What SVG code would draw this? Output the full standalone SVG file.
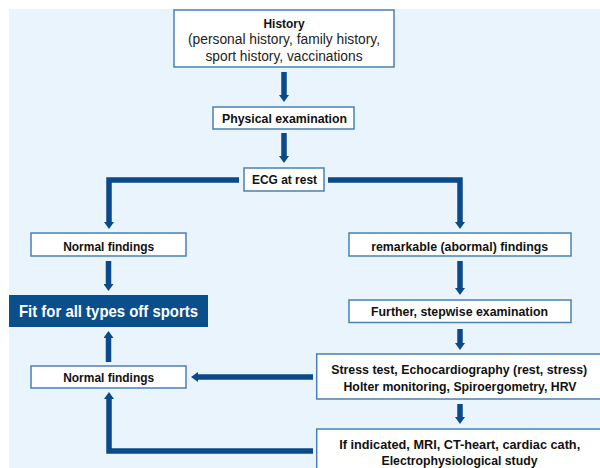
<svg xmlns="http://www.w3.org/2000/svg" width="600" height="468" viewBox="0 0 600 468">
<style>
.box{fill:#ffffff;stroke:#4a80b5;stroke-width:1.5}
.fill{fill:#ffffff;stroke:none}
.edge{fill:none;stroke:#4a80b5;stroke-width:1.5}
.fit{fill:#0a4e8c;stroke:none}
.t{font-family:"Liberation Sans",Arial,sans-serif;font-size:13.5px;font-weight:bold;fill:#111111;text-anchor:middle}
.s{font-size:12.8px}
.r{font-family:"Liberation Sans",Arial,sans-serif;font-size:14px;font-weight:normal;fill:#222222;text-anchor:middle}
.w{font-family:"Liberation Sans",Arial,sans-serif;font-size:17px;font-weight:bold;fill:#ffffff;text-anchor:middle}
.c{fill:none;stroke:#0a4a8a;stroke-width:5.5;stroke-linejoin:miter;marker-end:url(#ah)}
</style>
<defs>
<marker id="ah" markerUnits="userSpaceOnUse" viewBox="0 0 7 10" refX="0" refY="5" markerWidth="7" markerHeight="10" orient="auto">
<path d="M0,0 L7,5 L0,10 z" fill="#0a4a8a"/>
</marker>
</defs>
<rect x="9" y="9" width="591" height="459" fill="#eaf4fc"/>
<g id="connectors">
<path class="c" d="M284,72 V95"/>
<path class="c" d="M284,133 V156"/>
<path class="c" d="M239,180 H109 V222"/>
<path class="c" d="M328,180 H460 V222"/>
<path class="c" d="M108.5,261 V284"/>
<path class="c" d="M460,261 V288"/>
<path class="c" d="M460,329 V343"/>
<path class="c" d="M460,404 V417"/>
<path class="c" d="M313,377 H198"/>
<path class="c" d="M108.5,362 V338"/>
<path class="c" d="M313,451 H109 V399"/>
</g>
<g id="history">
<rect class="box" x="174" y="10" width="220" height="57"/>
<text class="t" x="284" y="27.5" textLength="41" lengthAdjust="spacingAndGlyphs">History</text>
<text class="r" x="284" y="44.3" textLength="192" lengthAdjust="spacingAndGlyphs">(personal history, family history,</text>
<text class="r" x="284" y="61" textLength="157" lengthAdjust="spacingAndGlyphs">sport history, vaccinations</text>
</g>
<g id="physical">
<rect class="box" x="213" y="107" width="141" height="22"/>
<text class="t" x="284.5" y="123" textLength="125" lengthAdjust="spacingAndGlyphs">Physical examination</text>
</g>
<g id="ecg">
<rect class="box" x="244" y="168" width="80" height="23"/>
<text class="t" x="284.5" y="184" textLength="65" lengthAdjust="spacingAndGlyphs">ECG at rest</text>
</g>
<g id="normal1">
<rect class="box" x="31" y="233" width="155" height="23"/>
<text class="t" x="108.7" y="250.5" textLength="91" lengthAdjust="spacingAndGlyphs">Normal findings</text>
</g>
<g id="remarkable">
<rect class="box" x="349" y="233" width="222" height="23"/>
<text class="t" x="459.7" y="250.5" textLength="177" lengthAdjust="spacingAndGlyphs">remarkable (abormal) findings</text>
</g>
<g id="fit">
<rect class="fit" x="9" y="295" width="199" height="32"/>
<text class="w" x="108.5" y="317.2" textLength="179" lengthAdjust="spacingAndGlyphs">Fit for all types off sports</text>
</g>
<g id="further">
<rect class="box" x="349" y="300" width="222" height="22.5"/>
<text class="t" x="459.5" y="316.2" textLength="177" lengthAdjust="spacingAndGlyphs">Further, stepwise examination</text>
</g>
<g id="normal2">
<rect class="box" x="31" y="366" width="155" height="22"/>
<text class="t" x="108.7" y="382.2" textLength="91" lengthAdjust="spacingAndGlyphs">Normal findings</text>
</g>
<g id="stress">
<rect class="fill" x="316.7" y="354" width="283.3" height="45"/>
<path class="edge" d="M600,354 H316.7 V399 H600"/>
<text class="t s" x="459.2" y="373.8" textLength="256" lengthAdjust="spacingAndGlyphs">Stress test, Echocardiography (rest, stress)</text>
<text class="t s" x="460" y="391.4" textLength="233" lengthAdjust="spacingAndGlyphs">Holter monitoring, Spiroergometry, HRV</text>
</g>
<g id="indicated">
<rect class="fill" x="316.7" y="429" width="283.3" height="39"/>
<path class="edge" d="M600,429 H316.7 V468"/>
<text class="t s" x="459.7" y="448.6" textLength="241" lengthAdjust="spacingAndGlyphs">If indicated, MRI, CT-heart, cardiac cath,</text>
<text class="t" x="459.5" y="465" textLength="156" lengthAdjust="spacingAndGlyphs">Electrophysiological study</text>
</g>
</svg>
